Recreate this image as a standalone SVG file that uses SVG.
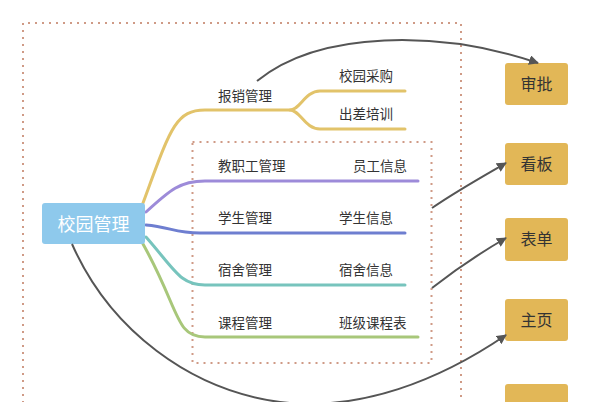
<svg xmlns="http://www.w3.org/2000/svg" width="589" height="402" viewBox="0 0 589 402">
<style>
.frame{fill:none;stroke:#cf9a86;stroke-width:2;stroke-dasharray:2 5}
.br{fill:none;stroke-width:3;stroke-linecap:round}
.lbl{font-family:"Noto Sans CJK SC","Noto Sans",sans-serif;font-size:13.5px;fill:#333}
.box rect{fill:#e2b757}
.box text{font-family:"Noto Sans CJK SC","Noto Sans",sans-serif;font-size:16px;fill:#333;text-anchor:middle}
.conn{fill:none;stroke:#555;stroke-width:2}
</style>
<defs>
<marker id="ah" viewBox="0 0 10 10" refX="9" refY="5" markerWidth="5" markerHeight="5" orient="auto" markerUnits="strokeWidth">
<path d="M0,0 L10,5 L0,10 z" fill="#555"/>
</marker>
</defs>
<rect width="589" height="402" fill="#fff"/>
<path class="frame" d="M23,410 V23 H461 V410"/>
<rect class="frame" x="192.5" y="142" width="239" height="221"/>

<g id="branches">
<path class="br" stroke="#e2c36a" d="M143,203 C170,130 175,110 205,110 H290 C300,110 305,91 320,91 H405"/>
<path class="br" stroke="#e2c36a" d="M290,110 C300,110 305,129 320,129 H405"/>
<path class="br" stroke="#9d8bd9" d="M146,212 C170,190 180,181 205,181 H418"/>
<path class="br" stroke="#6e7ed0" d="M146,225 C170,227 175,233 200,233 H405"/>
<path class="br" stroke="#77c4bd" d="M146,237 C175,270 180,285 205,285 H405"/>
<path class="br" stroke="#a8c77a" d="M143,244 C180,310 175,337 205,337 H418"/>
</g>

<g id="root">
<rect x="42" y="203" width="103" height="41" rx="3" fill="#8ec9ec"/>
<text x="93.5" y="230.5" font-family="'Noto Sans CJK SC','Noto Sans',sans-serif" font-size="18" fill="#fff" text-anchor="middle">校园管理</text>
</g>
<g id="n-baoxiao"><text class="lbl" x="218" y="101">报销管理</text></g>
<g id="n-caigou"><text class="lbl" x="339" y="81">校园采购</text></g>
<g id="n-chuchai"><text class="lbl" x="339" y="119">出差培训</text></g>
<g id="n-jiaozhigong"><text class="lbl" x="218" y="171">教职工管理</text></g>
<g id="n-yuangong"><text class="lbl" x="353" y="171">员工信息</text></g>
<g id="n-xuesheng"><text class="lbl" x="218" y="223">学生管理</text></g>
<g id="n-xueshengxx"><text class="lbl" x="339" y="223">学生信息</text></g>
<g id="n-sushe"><text class="lbl" x="218" y="275">宿舍管理</text></g>
<g id="n-sushexx"><text class="lbl" x="339" y="275">宿舍信息</text></g>
<g id="n-kecheng"><text class="lbl" x="218" y="328">课程管理</text></g>
<g id="n-banji"><text class="lbl" x="339" y="328">班级课程表</text></g>

<g id="b-shenpi" class="box"><rect x="505" y="63" width="63" height="42" rx="3"/><text x="536.5" y="90">审批</text></g>
<g id="b-kanban" class="box"><rect x="505" y="143" width="63" height="42" rx="3"/><text x="536.5" y="170">看板</text></g>
<g id="b-biaodan" class="box"><rect x="505" y="218" width="63" height="43" rx="3"/><text x="536.5" y="245">表单</text></g>
<g id="b-zhuye" class="box"><rect x="505" y="299" width="63" height="42" rx="3"/><text x="536.5" y="326">主页</text></g>
<g id="b-fifth" class="box"><rect x="505" y="384" width="63" height="42" rx="3"/></g>

<g id="connectors">
<path class="conn" marker-end="url(#ah)" d="M257,81 C320,30 440,30 538,63"/>
<path class="conn" marker-end="url(#ah)" d="M432,208 C455,192 480,178 506,163"/>
<path class="conn" marker-end="url(#ah)" d="M432,288 C455,270 480,253 506,238"/>
<path class="conn" marker-end="url(#ah)" d="M72,244 C110,330 190,390 280,402 C360,412 440,380 506,335"/>
</g>
</svg>
